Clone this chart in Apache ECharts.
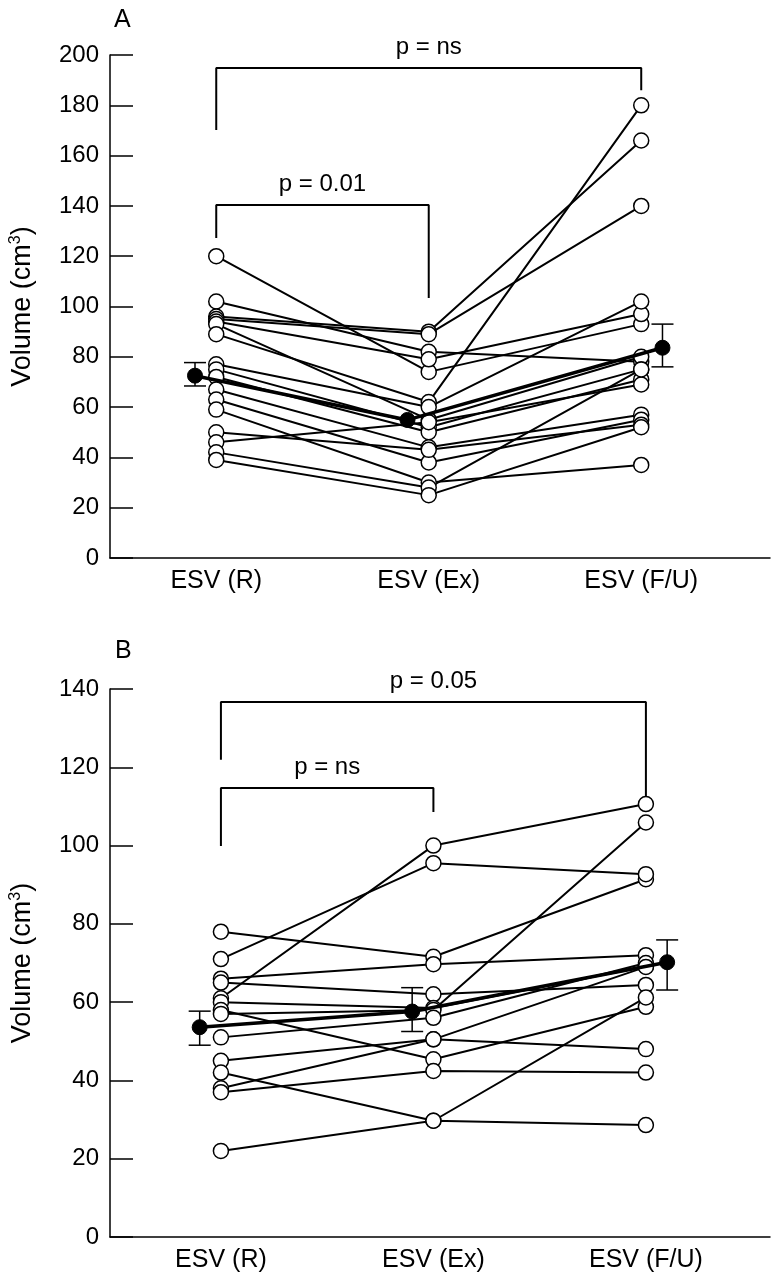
<!DOCTYPE html>
<html><head><meta charset="utf-8">
<script src="https://cdn.jsdelivr.net/npm/echarts@6/dist/echarts.min.js"></script>
<style>html,body{margin:0;padding:0;background:#fff}#c{width:776px;height:1280px}</style>
</head><body><div id="c"></div>
<script>
const categories = ['ESV (R)', 'ESV (Ex)', 'ESV (F/U)'];
const yTicksA = [0, 200, 20];   // min, max, interval
const yTicksB = [0, 140, 20];

// Panel A subjects: rest, exercise, follow-up
const aR  = [120, 102, 96, 95, 94, 93, 89, 77, 75, 72, 67, 63, 59, 50, 46, 42, 39];
const aEx = [74, 82, 90, 89, 79, 55, 62, 60, 52, 50, 44, 38, 30, 43, 54, 28, 25];
const aFU = [93, 78, 166, 140, 97, 80, 180, 102, 75, 71, 57, 55, 37, 53, 69, 75, 52];
const aMean = [72.5, 54.9, 83.6];
const aErrLow = [68.4, null, 76];
const aErrHigh = [77.7, null, 93];

// Panel B subjects
const bR  = [78, 71, 66, 65, 61, 60, 58, 57, 51, 45, 42, 38, 37, 22];
const bEx = [71.6, 95.5, 69.7, 62, 100, 58.5, 45.4, 58, 56, 50.5, 29.7, 50.5, 42.4, 29.7];
const bFU = [91.4, 92.7, 72, 64.4, 110.6, 69.1, 58.8, 105.9, 70, 48, 61.2, 69, 42, 28.6];
const bMean = [53.6, 57.6, 70.2];
const bErrLow = [49, 52.5, 63.1];
const bErrHigh = [57.7, 63.7, 75.9];

// Significance brackets: [from, to, top, leftEnd, rightEnd, text]
const aBrackets = [[1, 3, 194.8, 170.2, 186, 'p = ns'], [1, 2, 140.4, 127.2, 103.4, 'p = 0.01']];
const bBrackets = [[1, 3, 136.7, 121.9, 112.5, 'p = 0.05'], [1, 2, 114.7, 99.9, 108.6, 'p = ns']];

const meanOffset = [-0.1, -0.1, 0.1];
const FONT = '"Liberation Sans", Arial, Helvetica, sans-serif';

function xAxisFor(gi, min) {
  return {
    type: 'value', gridIndex: gi, min: min, max: min + 3.106,
    axisLine: {show: true, onZero: false, lineStyle: {color: '#000', width: 1.5}},
    axisTick: {show: false}, splitLine: {show: false},
    axisLabel: {customValues: [1, 2, 3], formatter: v => categories[Math.round(v) - 1] || '',
      color: '#000', fontSize: 25, fontFamily: FONT, margin: 11}
  };
}
function yAxisFor(gi, t) {
  return {
    type: 'value', gridIndex: gi, min: t[0], max: t[1], interval: t[2],
    name: '{n|Volume (cm}{sup|3}{n|)}', nameLocation: 'middle', nameGap: 73, nameRotate: 90,
    nameTextStyle: {color: '#000', fontSize: 27, fontFamily: FONT,
      rich: {
        n: {fontSize: 27, fontFamily: FONT, color: '#000'},
        sup: {fontSize: 16, verticalAlign: 'top', padding: [0, 0, 13, 0], fontFamily: FONT, color: '#000'}
      }},
    axisLine: {show: true, lineStyle: {color: '#000', width: 1.5}},
    axisTick: {show: true, inside: true, length: 23, lineStyle: {color: '#000', width: 1.5}},
    splitLine: {show: false},
    axisLabel: {color: '#000', fontSize: 24, fontFamily: FONT, margin: 11}
  };
}

function panelSeries(gi, R, Ex, FU, mean, lo, hi, brackets) {
  const s = [];
  for (let i = 0; i < R.length; i++) {
    s.push({type: 'line', xAxisIndex: gi, yAxisIndex: gi, showSymbol: false, silent: true,
      data: [[1, R[i]], [2, Ex[i]], [3, FU[i]]],
      lineStyle: {color: '#000', width: 2}, z: 2});
  }
  const pts = [];
  for (let i = 0; i < R.length; i++) { pts.push([1, R[i]], [2, Ex[i]], [3, FU[i]]); }
  s.push({type: 'scatter', xAxisIndex: gi, yAxisIndex: gi, data: pts, symbol: 'circle', symbolSize: 15,
    itemStyle: {color: '#fff', borderColor: '#000', borderWidth: 1.5, opacity: 1}, z: 3});
  const meanPts = mean.map((m, i) => [i + 1 + meanOffset[i], m]);
  s.push({type: 'line', xAxisIndex: gi, yAxisIndex: gi, data: meanPts, symbol: 'circle', symbolSize: 15,
    lineStyle: {color: '#000', width: 3.5}, itemStyle: {color: '#000', borderColor: '#000'}, z: 5});
  const errs = [];
  mean.forEach((m, i) => { if (lo[i] != null) errs.push([i + 1 + meanOffset[i], lo[i], hi[i]]); });
  s.push({type: 'custom', xAxisIndex: gi, yAxisIndex: gi, data: errs, z: 4, clip: false,
    renderItem: (params, api) => {
      const x = api.value(0);
      const a = api.coord([x, api.value(2)]), b = api.coord([x, api.value(1)]);
      const w = 11, st = {stroke: '#000', lineWidth: 1.5};
      return {type: 'group', children: [
        {type: 'line', shape: {x1: a[0], y1: a[1], x2: b[0], y2: b[1]}, style: st},
        {type: 'line', shape: {x1: a[0] - w, y1: a[1], x2: a[0] + w, y2: a[1]}, style: st},
        {type: 'line', shape: {x1: b[0] - w, y1: b[1], x2: b[0] + w, y2: b[1]}, style: st}
      ]};
    }});
  brackets.forEach(br => {
    s.push({type: 'line', xAxisIndex: gi, yAxisIndex: gi, showSymbol: false, silent: true, clip: false,
      data: [[br[0], br[3]], [br[0], br[2]], [br[1], br[2]], [br[1], br[4]]],
      lineStyle: {color: '#000', width: 2}, z: 2});
    s.push({type: 'scatter', xAxisIndex: gi, yAxisIndex: gi, clip: false, symbolSize: 0, silent: true,
      itemStyle: {color: '#000'},
      data: [[(br[0] + br[1]) / 2, br[2]]],
      label: {show: true, position: 'top', distance: 9, formatter: br[5], color: '#000', opacity: 1,
        fontSize: 24, fontFamily: FONT}, z: 6});
  });
  return s;
}

const chart = echarts.init(document.getElementById('c'), null, {renderer: 'canvas'});
chart.setOption({
  backgroundColor: '#fff',
  animation: false,
  title: [
    {text: 'A', left: 109, top: 3, textStyle: {fontSize: 25, fontWeight: 'normal', color: '#000', fontFamily: FONT}},
    {text: 'B', left: 110, top: 634, textStyle: {fontSize: 25, fontWeight: 'normal', color: '#000', fontFamily: FONT}}
  ],
  grid: [
    {left: 110, right: 6, top: 55, height: 503},
    {left: 110, right: 6, top: 689, height: 548}
  ],
  xAxis: [xAxisFor(0, 0.5), xAxisFor(1, 0.478)],
  yAxis: [yAxisFor(0, yTicksA), yAxisFor(1, yTicksB)],
  series: [].concat(
    panelSeries(0, aR, aEx, aFU, aMean, aErrLow, aErrHigh, aBrackets),
    panelSeries(1, bR, bEx, bFU, bMean, bErrLow, bErrHigh, bBrackets)
  )
});
</script></body></html>
